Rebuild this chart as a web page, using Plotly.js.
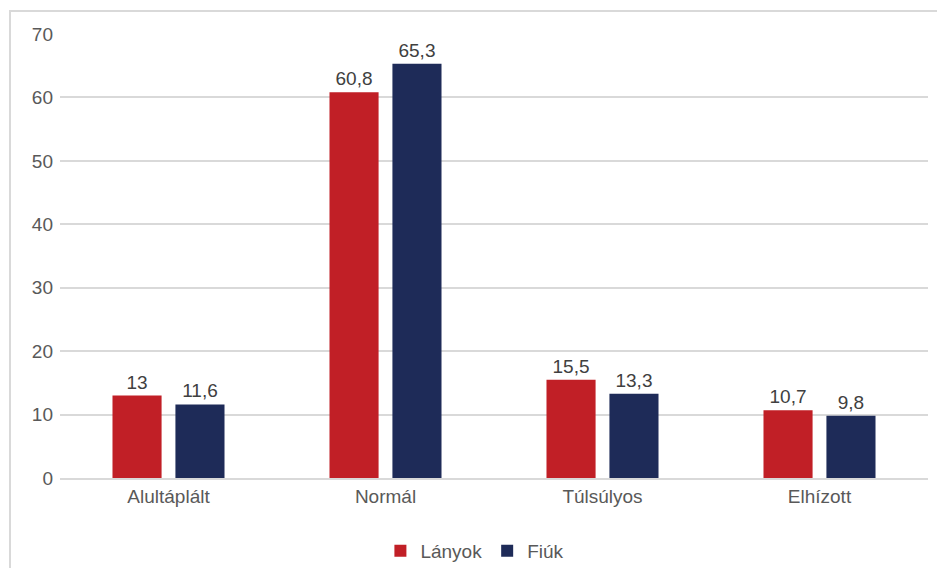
<!DOCTYPE html>
<html>
<head>
<meta charset="utf-8">
<script src="https://cdn.plot.ly/plotly-3.0.1.min.js"></script>
<style>
  html, body { margin: 0; padding: 0; background: #fff; }
  #wrap { position: relative; width: 937px; height: 568px; overflow: hidden; }
  #chart { position: absolute; left: 0; top: 0; width: 937px; height: 568px; }
  #frame { position: absolute; left: 9px; top: 10px; width: 960px; height: 600px;
           border: 2px solid #d9d9d9; box-sizing: border-box; pointer-events: none; }
</style>
</head>
<body>
<div id="wrap">
  <div id="chart"></div>
  <div id="frame"></div>
</div>
<script>
const categories = ["Alultáplált", "Normál", "Túlsúlyos", "Elhízott"];
const lanyok = [13, 60.8, 15.5, 10.7];
const fiuk = [11.6, 65.3, 13.3, 9.8];
const seriesNames = ["Lányok", "Fiúk"];
const yTicks = [0, 10, 20, 30, 40, 50, 60, 70];

const fmt = v => String(v).replace('.', ',');
const FONT = "Liberation Sans, Arial, sans-serif";
const FS = 19;

const traces = [
  { type: 'bar', name: seriesNames[0], x: categories, y: lanyok,
    marker: { color: '#C11F26' }, text: lanyok.map(fmt), textposition: 'outside',
    textfont: { color: '#404040', size: FS, family: FONT }, cliponaxis: false },
  { type: 'bar', name: seriesNames[1], x: categories, y: fiuk,
    marker: { color: '#1E2B58' }, text: fiuk.map(fmt), textposition: 'outside',
    textfont: { color: '#404040', size: FS, family: FONT }, cliponaxis: false }
];

const layout = {
  width: 937, height: 568,
  margin: { l: 60, r: 9, t: 34, b: 90, autoexpand: false },
  paper_bgcolor: 'rgba(0,0,0,0)', plot_bgcolor: 'rgba(0,0,0,0)',
  font: { family: FONT, size: FS, color: '#595959' },
  barmode: 'group', bargap: 0.42, bargroupgap: 0.22,
  showlegend: true,
  legend: { orientation: 'h', x: 0.478, xanchor: 'center', y: -0.164, yanchor: 'middle',
            font: { size: FS, color: '#595959' }, itemwidth: 20, traceorder: 'normal' },
  xaxis: { type: 'category', showgrid: false, showline: true, linecolor: '#d9d9d9', linewidth: 2,
           ticks: '', tickfont: { size: FS, color: '#595959' }, fixedrange: true, automargin: false },
  yaxis: { range: [0, 70], tickvals: yTicks, showgrid: true, gridcolor: '#d9d9d9', gridwidth: 2,
           zeroline: false, showline: false, ticks: '', ticklabelstandoff: 6,
           tickfont: { size: FS, color: '#595959' }, fixedrange: true, automargin: false }
};

Plotly.newPlot('chart', traces, layout, { displayModeBar: false, staticPlot: true });
</script>
</body>
</html>
